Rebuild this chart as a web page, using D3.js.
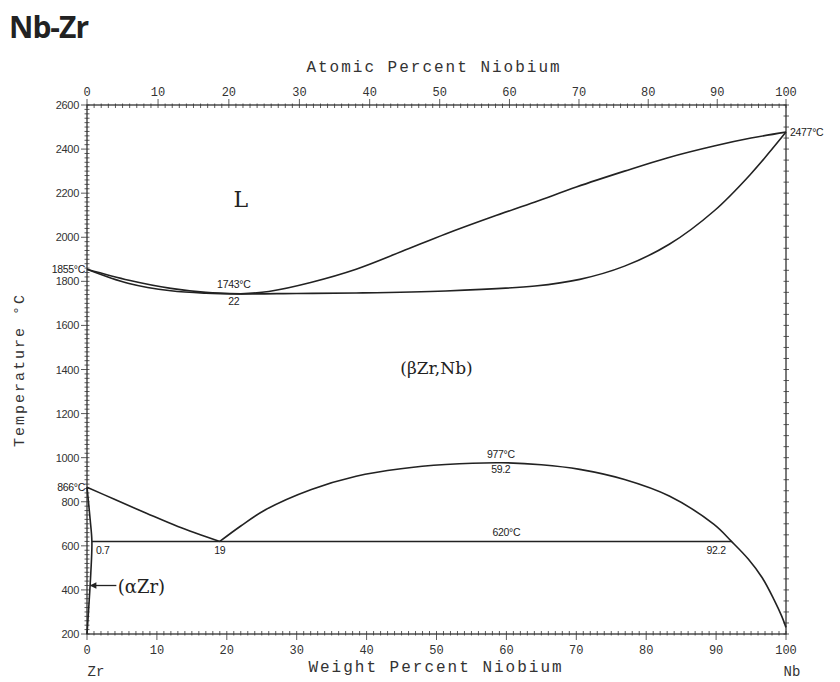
<!DOCTYPE html>
<html lang="en">
<head>
	<meta charset="utf-8">
	<title>Nb-Zr</title>
	<script src="https://d3js.org/d3.v7.min.js"></script>
	<style type="text/css">
		body { margin: 0; background: #fff; }
	</style>
</head>
<body>
<div id="chart"></div>

<script type="text/javascript">
	var w = 840;
	var h = 682;

	// weight percent Nb, temperature in C
	var liquidusLeft = [[0, 1855], [6, 1805], [12, 1768], [17, 1750], [22, 1743]];
	var liquidusRight = [[22, 1743], [26, 1754], [32, 1795], [38.5, 1855], [45, 1935], [51.3, 2015],
		[58, 2093], [64.1, 2160], [70, 2228], [76.9, 2300], [83, 2360], [89.7, 2414], [95, 2450], [100, 2477]];
	var solidus = [[0, 1855], [6, 1790], [12, 1757], [17, 1746], [22, 1743], [30, 1745], [38.5, 1747],
		[51.3, 1756], [64.1, 1779], [70.5, 1809], [76.9, 1869], [83.3, 1968], [89.7, 2119], [94.9, 2285], [100, 2477]];
	var betaTransus = [[0, 866], [4, 810], [8.5, 748], [13, 688], [19, 620]];
	var alphaSolvus = [[0, 866], [0.45, 720], [0.7, 620], [0.55, 480], [0.25, 320], [0, 200]];
	var miscGap = [[19, 620], [22, 690], [25.6, 765], [32.1, 856], [38.5, 916], [44.9, 950], [51.3, 969],
		[59.2, 977], [65, 968], [70.5, 947], [76.9, 901], [83.3, 826], [89.7, 697], [92.2, 620],
		[94.6, 540], [96.6, 455], [98.3, 355], [99.4, 280], [100, 230]];
	var monotectoid = [[0.7, 620], [92.2, 620]];

	var tempTicks = [200, 400, 600, 800, 1000, 1200, 1400, 1600, 1800, 2000, 2200, 2400, 2600];
	var wtTicks = [0, 10, 20, 30, 40, 50, 60, 70, 80, 90, 100];
	var atTicks = [0, 10, 20, 30, 40, 50, 60, 70, 80, 90, 100];

	var labels = [
		{ text: "1855°C", x: 0, t: 1855, dx: -2, dy: 4, anchor: "end" },
		{ text: "866°C", x: 0, t: 866, dx: -2, dy: 4, anchor: "end" },
		{ text: "2477°C", x: 100, t: 2477, dx: 4, dy: 4, anchor: "start" },
		{ text: "1743°C", x: 21, t: 1743, dx: 0, dy: -6, anchor: "middle" },
		{ text: "22", x: 21, t: 1743, dx: 0, dy: 11, anchor: "middle" },
		{ text: "977°C", x: 59.2, t: 977, dx: 0, dy: -5, anchor: "middle" },
		{ text: "59.2", x: 59.2, t: 977, dx: 0, dy: 10, anchor: "middle" },
		{ text: "620°C", x: 60, t: 620, dx: 0, dy: -5, anchor: "middle" },
		{ text: "0.7", x: 0.7, t: 620, dx: 4, dy: 13, anchor: "start" },
		{ text: "19", x: 19, t: 620, dx: 0, dy: 13, anchor: "middle" },
		{ text: "92.2", x: 90, t: 620, dx: 0, dy: 13, anchor: "middle" }
	];

	var ZR = 91.224, NB = 92.906;
	function atToWt(a) {
		return a * NB / (a * NB + (100 - a) * ZR) * 100;
	}

	var x = d3.scaleLinear().domain([0, 100]).range([87, 786]);
	var y = d3.scaleLinear().domain([200, 2600]).range([634, 105]);
	// top axis ticks placed by converting atomic % to weight %
	function xAt(a) { return x(atToWt(a)); }

	var svg = d3.select("#chart")
		.append("svg")
		.attr("width", w)
		.attr("height", h)
		.style("font-family", "Liberation Sans, Arial, sans-serif");

	svg.append("text")
		.attr("x", 9)
		.attr("y", 38)
		.attr("font-family", "Open Sans, sans-serif")
		.attr("font-weight", "bold")
		.attr("font-size", "30px")
		.attr("letter-spacing", "-1px")
		.attr("fill", "#222")
		.text("Nb-Zr");

	var ink = "#333";

	// frame
	svg.append("rect")
		.attr("x", x(0))
		.attr("y", y(2600))
		.attr("width", x(100) - x(0))
		.attr("height", y(200) - y(2600))
		.attr("fill", "none")
		.attr("stroke", ink)
		.attr("stroke-width", 1.3);

	// left axis
	var leftMinor = d3.range(200, 2601, 20);
	svg.append("g").selectAll("line")
		.data(leftMinor)
		.enter()
		.append("line")
		.attr("x1", function(d) { return x(0) - (tempTicks.indexOf(d) >= 0 ? 6 : 2.5); })
		.attr("x2", x(0) + 2.5)
		.attr("y1", function(d) { return y(d); })
		.attr("y2", function(d) { return y(d); })
		.attr("stroke", ink)
		.attr("stroke-width", 0.8);

	svg.append("g").selectAll("text")
		.data(tempTicks)
		.enter()
		.append("text")
		.attr("x", x(0) - 8)
		.attr("y", function(d) { return y(d) + 4; })
		.attr("text-anchor", "end")
		.attr("font-size", "11px")
		.attr("letter-spacing", "-0.3px")
		.attr("fill", ink)
		.text(function(d) { return d; });

	// right axis small ticks
	var rightMinor = d3.range(200, 2601, 50);
	svg.append("g").selectAll("line")
		.data(rightMinor)
		.enter()
		.append("line")
		.attr("x1", x(100) - 2.5)
		.attr("x2", x(100) + 3)
		.attr("y1", function(d) { return y(d); })
		.attr("y2", function(d) { return y(d); })
		.attr("stroke", ink)
		.attr("stroke-width", 0.8);

	// bottom axis (weight %)
	var wtMinor = d3.range(0, 101, 1);
	svg.append("g").selectAll("line")
		.data(wtMinor)
		.enter()
		.append("line")
		.attr("x1", function(d) { return x(d); })
		.attr("x2", function(d) { return x(d); })
		.attr("y1", function(d) { return y(200) - 3; })
		.attr("y2", function(d) { return y(200) + (d % 10 === 0 ? 6 : 1.5); })
		.attr("stroke", ink)
		.attr("stroke-width", 0.8);

	svg.append("g").selectAll("text")
		.data(wtTicks)
		.enter()
		.append("text")
		.attr("x", function(d) { return x(d); })
		.attr("y", y(200) + 20)
		.attr("text-anchor", "middle")
		.attr("font-family", "Liberation Mono, monospace")
		.attr("font-size", "12px")
		.attr("fill", ink)
		.text(function(d) { return d; });

	// top axis (atomic %)
	var atMinor = d3.range(0, 101, 1);
	svg.append("g").selectAll("line")
		.data(atMinor)
		.enter()
		.append("line")
		.attr("x1", function(d) { return xAt(d); })
		.attr("x2", function(d) { return xAt(d); })
		.attr("y1", function(d) { return y(2600) - (d % 10 === 0 ? 6 : 1.5); })
		.attr("y2", y(2600) + 3)
		.attr("stroke", ink)
		.attr("stroke-width", 0.8);

	svg.append("g").selectAll("text")
		.data(atTicks)
		.enter()
		.append("text")
		.attr("x", function(d) { return xAt(d); })
		.attr("y", y(2600) - 9)
		.attr("text-anchor", "middle")
		.attr("font-family", "Liberation Mono, monospace")
		.attr("font-size", "12px")
		.attr("fill", ink)
		.text(function(d) { return d; });

	// axis titles
	var mono = "Liberation Mono, monospace";
	svg.append("text")
		.attr("x", 434)
		.attr("y", 72)
		.attr("text-anchor", "middle")
		.attr("font-family", mono)
		.attr("font-size", "16px")
		.attr("letter-spacing", "2px")
		.attr("fill", ink)
		.text("Atomic Percent Niobium");

	svg.append("text")
		.attr("x", 436)
		.attr("y", 672)
		.attr("text-anchor", "middle")
		.attr("font-family", mono)
		.attr("font-size", "16px")
		.attr("letter-spacing", "2px")
		.attr("fill", ink)
		.text("Weight Percent Niobium");

	svg.append("text")
		.attr("transform", "translate(24,370) rotate(-90)")
		.attr("text-anchor", "middle")
		.attr("font-family", mono)
		.attr("font-size", "15px")
		.attr("letter-spacing", "2px")
		.attr("fill", ink)
		.text("Temperature °C");

	svg.append("text")
		.attr("x", x(0) + 9)
		.attr("y", 676)
		.attr("text-anchor", "middle")
		.attr("font-family", mono)
		.attr("font-size", "14px")
		.attr("fill", ink)
		.text("Zr");

	svg.append("text")
		.attr("x", x(100) + 6)
		.attr("y", 676)
		.attr("text-anchor", "middle")
		.attr("font-family", mono)
		.attr("font-size", "14px")
		.attr("fill", ink)
		.text("Nb");

	// phase boundaries
	var line = d3.line()
		.x(function(d) { return x(d[0]); })
		.y(function(d) { return y(d[1]); })
		.curve(d3.curveCatmullRom.alpha(0.5));

	var curves = [liquidusLeft, liquidusRight, solidus, betaTransus, miscGap, monotectoid, alphaSolvus];
	svg.append("g").selectAll("path")
		.data(curves)
		.enter()
		.append("path")
		.attr("d", line)
		.attr("fill", "none")
		.attr("stroke", "#222")
		.attr("stroke-width", 1.6);

	// point labels
	svg.append("g").selectAll("text")
		.data(labels)
		.enter()
		.append("text")
		.attr("x", function(d) { return x(d.x) + d.dx; })
		.attr("y", function(d) { return y(d.t) + d.dy; })
		.attr("text-anchor", function(d) { return d.anchor; })
		.attr("font-size", "10.5px")
		.attr("letter-spacing", "-0.3px")
		.attr("fill", "#222")
		.text(function(d) { return d.text; });

	// phase field labels
	var serif = "DejaVu Serif, Liberation Serif, serif";
	svg.append("text")
		.attr("x", x(22))
		.attr("y", y(2135))
		.attr("text-anchor", "middle")
		.attr("font-family", serif)
		.attr("font-size", "22px")
		.attr("fill", "#222")
		.text("L");

	svg.append("text")
		.attr("x", x(50))
		.attr("y", y(1380))
		.attr("text-anchor", "middle")
		.attr("font-family", serif)
		.attr("font-size", "17px")
		.attr("fill", "#222")
		.text("(βZr,Nb)");

	svg.append("text")
		.attr("x", x(4.4))
		.attr("y", y(420) + 7)
		.attr("font-family", serif)
		.attr("font-size", "18px")
		.attr("fill", "#222")
		.text("(αZr)");

	svg.append("defs").append("marker")
		.attr("id", "arr")
		.attr("viewBox", "0 0 10 10")
		.attr("refX", 9)
		.attr("refY", 5)
		.attr("markerWidth", 6)
		.attr("markerHeight", 5)
		.attr("orient", "auto")
		.append("path")
		.attr("d", "M0,0L10,5L0,10z")
		.attr("fill", "#222");

	svg.append("line")
		.attr("x1", x(4.2))
		.attr("x2", x(0.5))
		.attr("y1", y(420))
		.attr("y2", y(420))
		.attr("stroke", "#222")
		.attr("stroke-width", 1.3)
		.attr("marker-end", "url(#arr)");
</script>
</body>
</html>
